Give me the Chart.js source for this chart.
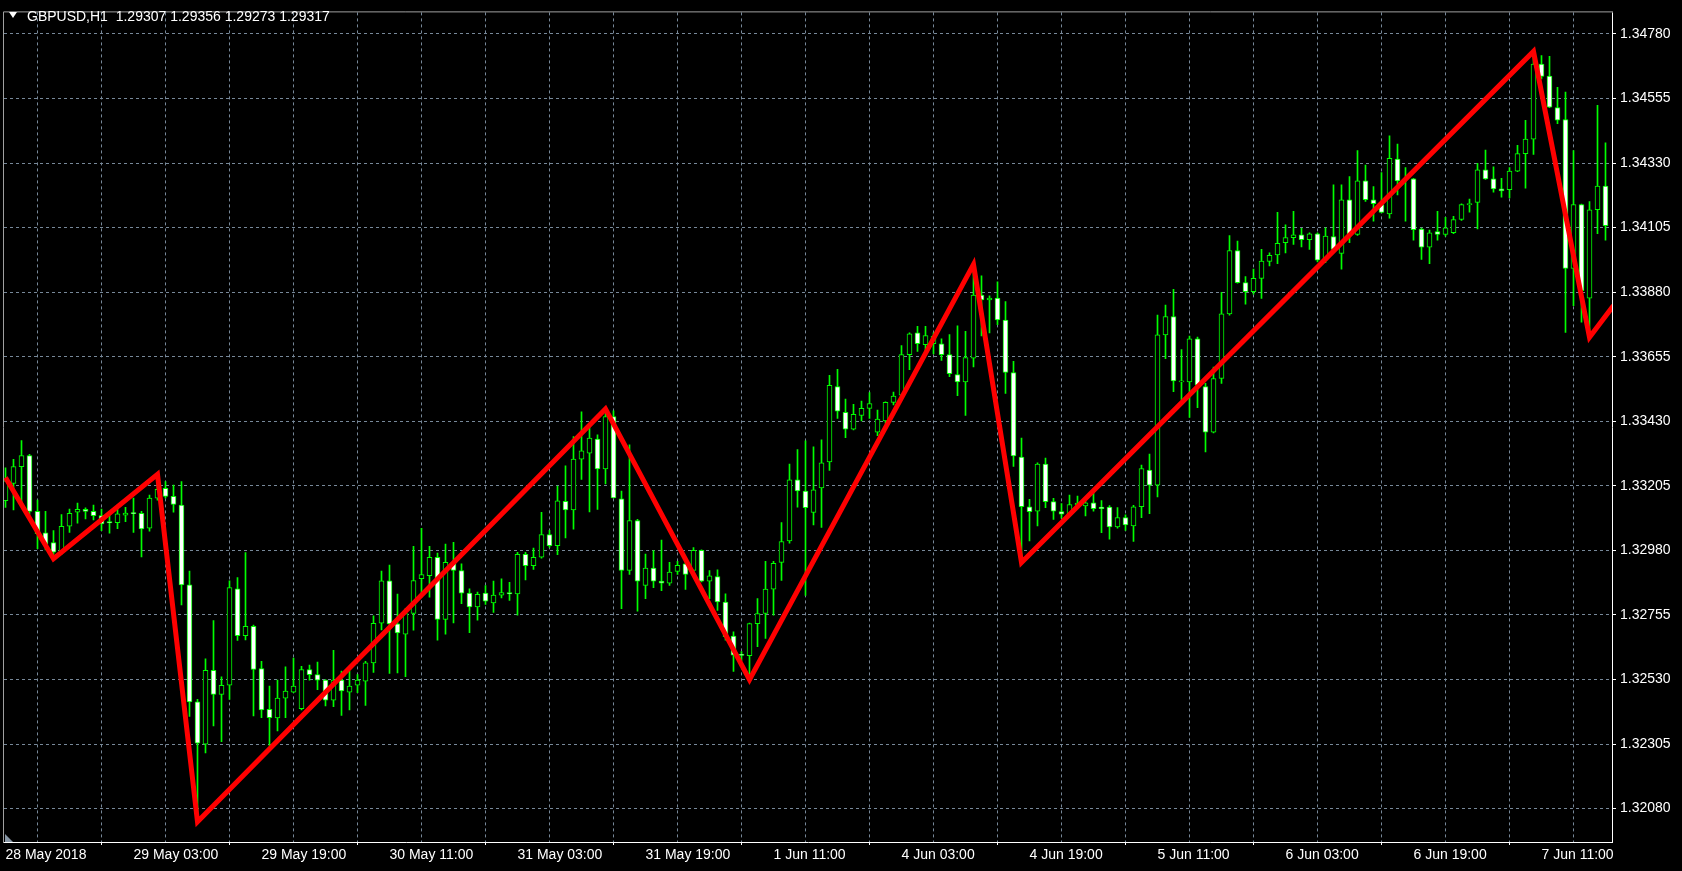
<!DOCTYPE html>
<html><head><meta charset="utf-8">
<script src="https://cdn.jsdelivr.net/npm/chart.js@4/dist/chart.umd.min.js"></script>
<style>
html,body{margin:0;padding:0;background:#000;width:1682px;height:871px;overflow:hidden}
#wrap{position:relative;width:1682px;height:871px}
canvas{display:block}
#title{position:absolute;left:27px;top:8px;color:#fff;font:14px "Liberation Sans",Arial,sans-serif;white-space:pre}
#tri{position:absolute;left:9px;top:12px;width:0;height:0;border-left:4px solid transparent;border-right:4px solid transparent;border-top:6px solid #fff}
#shift{position:absolute;left:5px;top:834px;width:0;height:0;border-bottom:8px solid #8796a5;border-right:8px solid transparent}
</style></head><body>
<div id="wrap"><canvas id="c" width="1682" height="871"></canvas>
<div id="tri"></div><div id="shift"></div><div id="title">GBPUSD,H1  1.29307 1.29356 1.29273 1.29317</div></div>
<script>
const xLabels = ["28 May 2018","29 May 03:00","29 May 19:00","30 May 11:00","31 May 03:00","31 May 19:00","1 Jun 11:00","4 Jun 03:00","4 Jun 19:00","5 Jun 11:00","6 Jun 03:00","6 Jun 19:00","7 Jun 11:00"];
const yTicks = [1.34780,1.34555,1.34330,1.34105,1.33880,1.33655,1.33430,1.33205,1.32980,1.32755,1.32530,1.32305,1.32080];

const opens = [1.33153,1.33213,1.33272,1.33310,1.33116,1.33041,1.33007,1.32974,1.33064,1.33113,
1.33123,1.33116,1.33101,1.33077,1.33077,1.33103,1.33109,1.33109,1.33057,1.33162,
1.33196,1.33168,1.33138,1.32860,1.32452,1.32305,1.32562,1.32478,1.32510,1.32846,
1.32683,1.32715,1.32568,1.32426,1.32396,1.32465,1.32486,1.32428,1.32565,1.32547,
1.32528,1.32458,1.32528,1.32486,1.32510,1.32524,1.32588,1.32726,1.32874,1.32724,
1.32688,1.32760,1.32881,1.32892,1.32956,1.32739,1.32938,1.32910,1.32831,1.32783,
1.32831,1.32797,1.32824,1.32833,1.32828,1.32966,1.32927,1.32956,1.33035,1.32996,
1.33151,1.33121,1.33298,1.33319,1.33368,1.33264,1.33446,1.33160,1.32910,1.33084,
1.32858,1.32918,1.32873,1.32866,1.32907,1.32933,1.32910,1.32980,1.32873,1.32889,
1.32800,1.32681,1.32615,1.32613,1.32725,1.32760,1.32845,1.32938,1.33013,1.33226,
1.33187,1.33112,1.33198,1.33288,1.33551,1.33461,1.33402,1.33450,1.33475,1.33392,
1.33431,1.33496,1.33521,1.33662,1.33738,1.33697,1.33700,1.33700,1.33662,1.33593,
1.33567,1.33650,1.33870,1.33853,1.33859,1.33783,1.33600,1.33305,1.33132,1.33117,
1.33281,1.33150,1.33115,1.33106,1.33138,1.33135,1.33146,1.33131,1.33131,1.33062,
1.33094,1.33065,1.33132,1.33260,1.33207,1.33731,1.33795,1.33567,1.33567,1.33717,
1.33551,1.33392,1.33579,1.33804,1.34025,1.33913,1.33882,1.33928,1.33987,1.34010,
1.34052,1.34070,1.34080,1.34063,1.34083,1.33991,1.34074,1.34015,1.34202,1.34081,
1.34268,1.34202,1.34185,1.34153,1.34344,1.34271,1.34275,1.34100,1.34037,1.34091,
1.34081,1.34087,1.34133,1.34185,1.34193,1.34306,1.34275,1.34240,1.34237,1.34302,
1.34363,1.34413,1.34675,1.34633,1.34523,1.34481,1.33963,1.34185,1.33859,1.34167,
1.34250];
const highs = [1.33268,1.33297,1.33363,1.33315,1.33155,1.33116,1.33049,1.33105,1.33124,1.33145,
1.33128,1.33138,1.33124,1.33101,1.33127,1.33130,1.33162,1.33116,1.33173,1.33245,
1.33220,1.33208,1.33220,1.32908,1.32461,1.32602,1.32735,1.32539,1.32874,1.32885,
1.32972,1.32720,1.32593,1.32507,1.32528,1.32574,1.32605,1.32576,1.32580,1.32591,
1.32530,1.32632,1.32559,1.32559,1.32547,1.32593,1.32752,1.32908,1.32929,1.32828,
1.32777,1.32994,1.33057,1.32994,1.32971,1.33002,1.33008,1.32933,1.32846,1.32835,
1.32857,1.32873,1.32881,1.32869,1.32973,1.32973,1.32988,1.33113,1.33050,1.33204,
1.33275,1.33377,1.33463,1.33408,1.33383,1.33473,1.33466,1.33187,1.33348,1.33088,
1.32967,1.32979,1.33016,1.32938,1.32942,1.32944,1.32990,1.32982,1.32910,1.32912,
1.32829,1.32696,1.32627,1.32727,1.32812,1.32942,1.32942,1.33077,1.33281,1.33331,
1.33362,1.33341,1.33365,1.33590,1.33611,1.33507,1.33489,1.33500,1.33530,1.33469,
1.33498,1.33532,1.33694,1.33738,1.33761,1.33761,1.33738,1.33717,1.33732,1.33763,
1.33743,1.33977,1.33937,1.33867,1.33916,1.33847,1.33639,1.33371,1.33158,1.33285,
1.33302,1.33161,1.33143,1.33173,1.33169,1.33163,1.33181,1.33154,1.33136,1.33129,
1.33104,1.33137,1.33277,1.33316,1.33800,1.33835,1.33890,1.33680,1.33727,1.33723,
1.33562,1.33619,1.33879,1.34077,1.34058,1.33934,1.33960,1.34029,1.34017,1.34158,
1.34115,1.34162,1.34102,1.34087,1.34087,1.34104,1.34254,1.34254,1.34283,1.34373,
1.34323,1.34248,1.34297,1.34425,1.34396,1.34314,1.34277,1.34103,1.34096,1.34162,
1.34141,1.34144,1.34188,1.34204,1.34329,1.34375,1.34317,1.34277,1.34314,1.34392,
1.34479,1.34719,1.34704,1.34702,1.34594,1.34577,1.34373,1.34187,1.34196,1.34531,
1.34400];
const lows = [1.33130,1.33121,1.33150,1.33105,1.32986,1.32982,1.32951,1.32966,1.33043,1.33075,
1.33090,1.33086,1.33049,1.33040,1.33056,1.33080,1.33043,1.32957,1.33047,1.33155,
1.33162,1.33113,1.32790,1.32401,1.32034,1.32274,1.32368,1.32313,1.32461,1.32666,
1.32668,1.32403,1.32397,1.32299,1.32351,1.32397,1.32484,1.32424,1.32528,1.32495,
1.32438,1.32435,1.32405,1.32424,1.32484,1.32440,1.32555,1.32703,1.32551,1.32553,
1.32540,1.32702,1.32817,1.32817,1.32667,1.32688,1.32727,1.32794,1.32693,1.32737,
1.32792,1.32764,1.32814,1.32806,1.32754,1.32877,1.32914,1.32953,1.32990,1.32965,
1.33023,1.33054,1.33227,1.33114,1.33123,1.33212,1.33163,1.32777,1.32896,1.32768,
1.32812,1.32850,1.32840,1.32858,1.32896,1.32844,1.32898,1.32870,1.32812,1.32771,
1.32667,1.32558,1.32596,1.32529,1.32644,1.32673,1.32754,1.32875,1.33005,1.33131,
1.32823,1.33069,1.33060,1.33259,1.33440,1.33373,1.33400,1.33431,1.33440,1.33380,
1.33423,1.33487,1.33515,1.33610,1.33673,1.33669,1.33665,1.33642,1.33585,1.33519,
1.33450,1.33619,1.33727,1.33738,1.33767,1.33527,1.33273,1.32938,1.33013,1.33065,
1.33129,1.33088,1.33092,1.33104,1.33129,1.33100,1.33117,1.33042,1.33019,1.33057,
1.33050,1.33011,1.33094,1.33108,1.33166,1.33648,1.33533,1.33504,1.33443,1.33477,
1.33323,1.33389,1.33562,1.33800,1.33911,1.33838,1.33873,1.33858,1.33971,1.33979,
1.34017,1.34046,1.34038,1.34029,1.33985,1.33983,1.34023,1.33960,1.34052,1.34078,
1.34196,1.34127,1.34156,1.34138,1.34219,1.34127,1.34061,1.33994,1.33979,1.34061,
1.34075,1.34084,1.34130,1.34159,1.34100,1.34273,1.34228,1.34211,1.34208,1.34300,
1.34242,1.34360,1.34623,1.34523,1.34467,1.33740,1.33833,1.33775,1.33723,1.34084,
1.34061];
const closes = [1.33222,1.33272,1.33310,1.33116,1.33038,1.33001,1.32974,1.33064,1.33109,1.33123,
1.33116,1.33101,1.33072,1.33076,1.33107,1.33110,1.33108,1.33055,1.33162,1.33193,
1.33168,1.33140,1.32860,1.32452,1.32308,1.32562,1.32478,1.32510,1.32850,1.32683,
1.32715,1.32565,1.32424,1.32397,1.32465,1.32490,1.32507,1.32565,1.32547,1.32528,
1.32458,1.32528,1.32490,1.32507,1.32528,1.32588,1.32726,1.32874,1.32724,1.32692,
1.32760,1.32875,1.32896,1.32956,1.32739,1.32938,1.32910,1.32831,1.32783,1.32827,
1.32803,1.32824,1.32833,1.32828,1.32966,1.32927,1.32956,1.33035,1.32996,1.33153,
1.33121,1.33298,1.33327,1.33371,1.33264,1.33446,1.33163,1.32910,1.33084,1.32873,
1.32918,1.32873,1.32866,1.32904,1.32928,1.32896,1.32980,1.32873,1.32891,1.32800,
1.32679,1.32615,1.32614,1.32725,1.32760,1.32845,1.32935,1.33011,1.33226,1.33187,
1.33129,1.33191,1.33285,1.33555,1.33465,1.33402,1.33454,1.33475,1.33492,1.33438,
1.33496,1.33518,1.33662,1.33735,1.33700,1.33729,1.33727,1.33662,1.33596,1.33567,
1.33652,1.33870,1.33853,1.33859,1.33783,1.33600,1.33309,1.33132,1.33115,1.33281,
1.33150,1.33117,1.33106,1.33140,1.33145,1.33146,1.33125,1.33125,1.33062,1.33094,
1.33069,1.33132,1.33265,1.33207,1.33731,1.33795,1.33571,1.33571,1.33717,1.33556,
1.33392,1.33579,1.33804,1.34025,1.33913,1.33882,1.33928,1.33988,1.34008,1.34050,
1.34070,1.34080,1.34063,1.34083,1.33991,1.34075,1.34029,1.34202,1.34081,1.34268,
1.34202,1.34188,1.34158,1.34346,1.34268,1.34275,1.34098,1.34037,1.34087,1.34081,
1.34104,1.34133,1.34185,1.34188,1.34306,1.34275,1.34240,1.34233,1.34302,1.34363,
1.34413,1.34675,1.34632,1.34525,1.34479,1.33963,1.34185,1.33885,1.34167,1.34250,
1.34112];

const zigzagBars   = [0, 6, 19, 24, 75, 93, 121, 127, 191, 198, 201];
const zigzagPrices = [1.33234,1.32951,1.33245,1.32034,1.33473,1.32529,1.33977,1.32938,1.34719,1.33723,1.33833];

const gridBars = [];
for (let b = 0; b <= 200; b += 8) gridBars.push(b);

const bodyData = opens.map((o, i) => {
  const lo = Math.min(o, closes[i]);
  const hi = Math.max(o, closes[i], lo + 0.00004);
  return {x: i, y: [lo, hi]};
});
const bodyFill = opens.map((o, i) => closes[i] > o ? '#000000' : '#ffffff');
const wickData = highs.map((h, i) => ({x: i, y: [lows[i], h]}));
const zigzagData = zigzagBars.map((b, i) => ({x: b, y: zigzagPrices[i]}));

const FONT = {family: '"Liberation Sans", Arial, sans-serif', size: 14};
const GRID = '#778899';

const framePlugin = {
  id: 'frame',
  beforeDatasetsDraw(chart) {
    const {ctx, chartArea: a} = chart;
    ctx.save();
    ctx.lineWidth = 1;
    ctx.strokeStyle = '#ffffff';
    ctx.beginPath();
    ctx.moveTo(a.right + 0.5, a.top);
    ctx.lineTo(a.right + 0.5, a.bottom + 1);
    ctx.moveTo(a.left, a.bottom + 0.5);
    ctx.lineTo(a.right + 1, a.bottom + 0.5);
    ctx.stroke();
    ctx.strokeStyle = '#a0a0a0';
    ctx.beginPath();
    ctx.moveTo(a.left - 0.5, a.top - 0.5);
    ctx.lineTo(a.left - 0.5, a.bottom + 1);
    ctx.moveTo(a.left - 0.5, a.top - 0.5);
    ctx.lineTo(a.right + 1, a.top - 0.5);
    ctx.stroke();
    ctx.restore();
  }
};

new Chart(document.getElementById('c'), {
  type: 'bar',
  data: {
    datasets: [
      {type: 'line', data: zigzagData, borderColor: '#ff0000', borderWidth: 5, pointRadius: 0,
       tension: 0, fill: false, order: 0, borderJoinStyle: 'miter'},
      {type: 'bar', data: bodyData, backgroundColor: bodyFill, borderColor: '#00ff00', borderWidth: 1,
       borderSkipped: false, barThickness: 5, grouped: false, order: 1},
      {type: 'bar', data: wickData, backgroundColor: '#00ff00', borderWidth: 0,
       barThickness: 1, grouped: false, order: 2}
    ]
  },
  options: {
    responsive: false,
    animation: false,
    events: [],
    layout: {padding: {left: 4, top: 4, right: 0, bottom: 0}},
    plugins: {legend: {display: false}, tooltip: {enabled: false}, title: {display: false}},
    scales: {
      x: {
        type: 'linear', position: 'bottom', min: -0.1875, max: 200.8125, offset: false,
        afterBuildTicks: s => { s.ticks = gridBars.map(v => ({value: v})); },
        afterFit: s => { s.height = 29; },
        grid: {color: GRID, lineWidth: 1, borderDash: [3, 3], tickLength: 3, tickWidth: 1,
               tickBorderDash: [],
               tickColor: c => (c.tick && c.tick.value % 16 === 0) ? '#ffffff' : 'rgba(0,0,0,0)'},
        border: {display: false, dash: [3, 3]},
        ticks: {autoSkip: false, maxRotation: 0, minRotation: 0, align: 'start', padding: 2,
                color: '#ffffff', font: FONT,
                callback: v => (v % 16 === 0) ? xLabels[v / 16] : ''}
      },
      y: {
        type: 'linear', position: 'right', min: 1.319637, max: 1.348549,
        afterBuildTicks: s => { s.ticks = yTicks.map(v => ({value: v})); },
        afterFit: s => { s.width = 70; },
        grid: {color: GRID, lineWidth: 1, borderDash: [3, 3], tickLength: 4, tickWidth: 1,
               tickBorderDash: [], tickColor: '#ffffff'},
        border: {display: false, dash: [3, 3]},
        ticks: {padding: 4, color: '#ffffff', font: FONT, callback: v => v.toFixed(5)}
      }
    }
  },
  plugins: [framePlugin]
});
</script>
</body></html>
